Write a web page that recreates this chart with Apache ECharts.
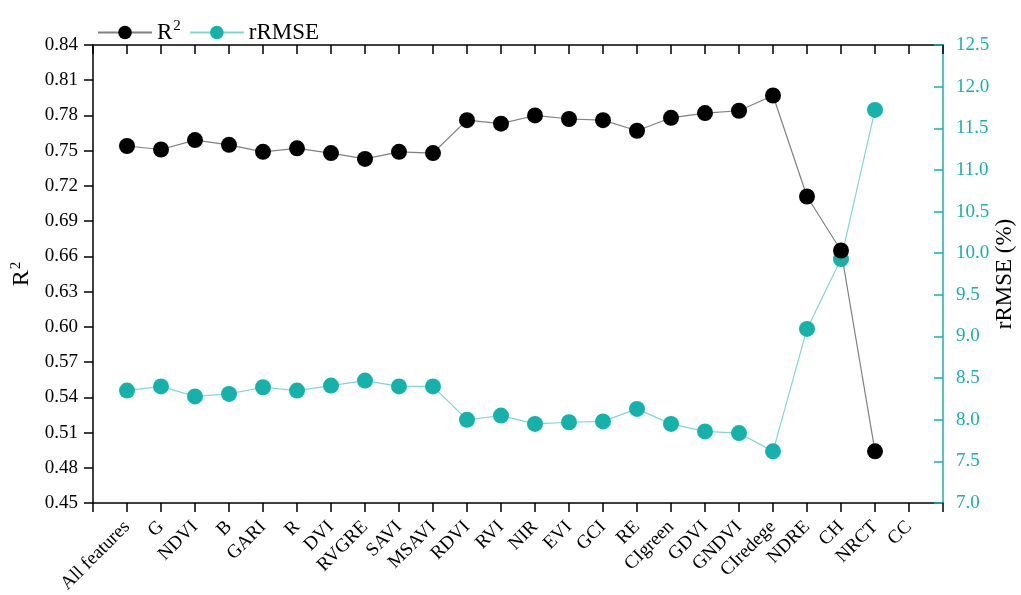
<!DOCTYPE html>
<html>
<head>
<meta charset="utf-8">
<script src="https://cdn.jsdelivr.net/npm/echarts@6/dist/echarts.min.js"></script>
<style>
  html, body { margin: 0; padding: 0; background: #fff; }
  #chart { width: 1021px; height: 595px; }
</style>
</head>
<body>
<div id="chart"></div>
<script>
// Feature sets on the x axis (CC has no model result)
const features = ['All features', 'G', 'NDVI', 'B', 'GARI', 'R', 'DVI', 'RVGRE', 'SAVI', 'MSAVI',
  'RDVI', 'RVI', 'NIR', 'EVI', 'GCI', 'RE', 'CIgreen', 'GDVI', 'GNDVI', 'CIredege',
  'NDRE', 'CH', 'NRCT', 'CC'];

// Coefficient of determination per feature set
const r2Values = [0.754, 0.751, 0.759, 0.755, 0.749, 0.752, 0.748, 0.743, 0.749, 0.748,
  0.776, 0.773, 0.780, 0.777, 0.776, 0.767, 0.778, 0.782, 0.784, 0.797,
  0.711, 0.665, 0.494, null];

// Relative RMSE (%) per feature set
const rrmseValues = [8.35, 8.40, 8.28, 8.31, 8.39, 8.35, 8.41, 8.47, 8.40, 8.40,
  8.00, 8.05, 7.95, 7.97, 7.98, 8.13, 7.95, 7.86, 7.84, 7.62,
  9.09, 9.93, 11.72, null];

// Axis ranges
const r2Axis = { min: 0.45, max: 0.84, step: 0.03 };
const rrmseAxis = { min: 7.0, max: 12.5, step: 0.5 };

const TEAL = '#14b2ab';
const TEAL_LINE = '#82d6d1';
const FONT = '"Liberation Serif", "Times New Roman", serif';
const SUP = { fontFamily: FONT, fontSize: 15, verticalAlign: 'top', padding: [0, 0, 12, 1] };

// pad the category axis with an empty slot at each end so ticks sit on the axis ends
const cats = [''].concat(features, ['']);
const pad = arr => [null].concat(arr, [null]);

const chart = echarts.init(document.getElementById('chart'), null, { renderer: 'canvas' });

const option = {
  backgroundColor: '#fff',
  animation: false,
  textStyle: { fontFamily: FONT },
  legend: {
    left: 92, top: 14,
    itemWidth: 54, itemHeight: 17, itemGap: 8,
    textStyle: { fontFamily: FONT, fontSize: 23, color: '#000', rich: { sup: SUP } },
    formatter: name => name === 'R2' ? 'R{sup|2}' : name,
    data: ['R2', 'rRMSE']
  },
  grid: { left: 93, right: 78, top: 45, bottom: 92, containLabel: false, outerBoundsMode: 'none' },
  xAxis: [
    {
      type: 'category', data: cats, boundaryGap: false, position: 'bottom',
      axisLine: { lineStyle: { color: '#000', width: 1.5 } },
      axisTick: { show: true, length: 9, lineStyle: { color: '#000', width: 1.5 }, interval: 0 },
      axisLabel: { interval: 0, rotate: 45, fontFamily: FONT, fontSize: 19, color: '#000', margin: 21 },
      splitLine: { show: false }
    },
    {
      type: 'category', data: cats, boundaryGap: false, position: 'top',
      axisLine: { lineStyle: { color: '#000', width: 1.5 } },
      axisTick: { show: true, inside: true, length: 9, lineStyle: { color: '#000', width: 1.5 }, interval: 0 },
      axisLabel: { show: false },
      splitLine: { show: false }
    }
  ],
  yAxis: [
    {
      type: 'value', position: 'left',
      min: r2Axis.min, max: r2Axis.max, interval: r2Axis.step,
      name: 'R{sup|2}', nameLocation: 'middle', nameGap: 56, nameRotate: 90,
      nameTextStyle: { fontFamily: FONT, fontSize: 24, color: '#000', rich: { sup: SUP } },
      axisLine: { show: true, lineStyle: { color: '#000', width: 1.5 } },
      axisTick: { show: true, length: 9, lineStyle: { color: '#000', width: 1.5 } },
      axisLabel: { fontFamily: FONT, fontSize: 19, color: '#000', margin: 15, formatter: v => v.toFixed(2) },
      splitLine: { show: false }
    },
    {
      type: 'value', position: 'right',
      min: rrmseAxis.min, max: rrmseAxis.max, interval: rrmseAxis.step,
      name: 'rRMSE (%)', nameLocation: 'middle', nameGap: 50, nameRotate: 90,
      nameMoveOverlap: false,
      nameTextStyle: { fontFamily: FONT, fontSize: 23, color: '#000' },
      axisLine: { show: true, lineStyle: { color: TEAL, width: 1.5 } },
      axisTick: { show: true, inside: true, length: 9, lineStyle: { color: TEAL, width: 1.5 } },
      axisLabel: { fontFamily: FONT, fontSize: 19, color: TEAL, margin: 13, formatter: v => v.toFixed(1) },
      splitLine: { show: false }
    }
  ],
  series: [
    {
      name: 'R2', type: 'line', xAxisIndex: 0, yAxisIndex: 0,
      data: pad(r2Values),
      symbol: 'circle', symbolSize: 16,
      itemStyle: { color: '#000' },
      lineStyle: { color: '#808080', width: 1.2 },
      z: 3
    },
    {
      name: 'rRMSE', type: 'line', xAxisIndex: 0, yAxisIndex: 1,
      data: pad(rrmseValues),
      symbol: 'circle', symbolSize: 16,
      itemStyle: { color: TEAL },
      lineStyle: { color: TEAL_LINE, width: 1.2 },
      z: 2
    }
  ]
};

chart.setOption(option);
</script>
</body>
</html>
